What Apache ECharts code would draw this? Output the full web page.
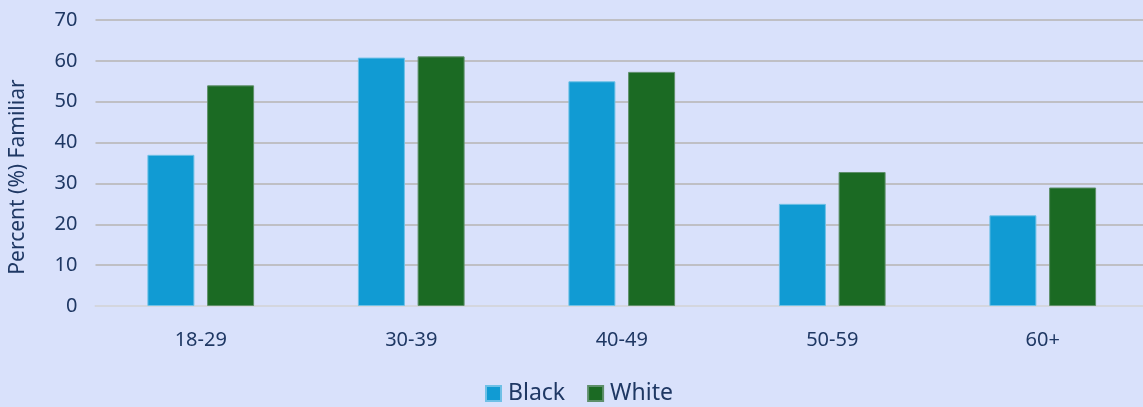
<!DOCTYPE html>
<html>
<head>
<meta charset="utf-8">
<script src="https://cdn.jsdelivr.net/npm/echarts@6/dist/echarts.min.js"></script>
<style>
  html, body { margin: 0; padding: 0; background: #d9e1fb; }
  #chart { width: 1143px; height: 407px; }
</style>
</head>
<body>
<div id="chart"></div>
<script>
var ageGroups = ["18-29", "30-39", "40-49", "50-59", "60+"];
var blackValues = [37, 60.8, 55, 25, 22.2];
var whiteValues = [54, 61.1, 57.3, 32.8, 29];
var yTicks = { min: 0, max: 70, interval: 10 };

var textColor = "#1f3864";
var font = "Noto Sans";

var myChart = echarts.init(document.getElementById("chart"));
var option = {
  backgroundColor: "#d9e1fb",
  animation: false,
  textStyle: { fontFamily: font },
  // plot area runs a little past the right edge, as in the original
  grid: { left: 95.5, right: -5, top: 20, bottom: 101, outerBoundsMode: "none", containLabel: false },
  legend: {
    bottom: -3,
    left: 480,
    itemWidth: 15,
    itemHeight: 15,
    itemGap: 22,
    icon: "rect",
    textStyle: { color: textColor, fontSize: 23, fontFamily: font, padding: [0, 0, 0, 2] },
    data: ["Black", "White"],
  },
  xAxis: {
    type: "category",
    data: ageGroups,
    axisTick: { show: false },
    axisLine: { lineStyle: { color: "#d4d6de", width: 2 } },
    axisLabel: { color: textColor, fontSize: 20, margin: 24 },
  },
  yAxis: {
    type: "value",
    min: yTicks.min,
    max: yTicks.max,
    interval: yTicks.interval,
    name: "Percent (%) Familiar",
    nameLocation: "middle",
    nameGap: 67,
    nameTextStyle: { color: textColor, fontSize: 21, padding: [0, 28, 0, 0] },
    axisLabel: { color: textColor, fontSize: 20, margin: 18 },
    splitLine: { lineStyle: { color: "#bfbfc4", width: 2 } },
  },
  series: [
    {
      name: "Black",
      type: "bar",
      data: blackValues,
      barWidth: 47,
      barGap: "27%",
      itemStyle: { color: "#119bd3", borderColor: "#6fc0e6", borderWidth: 1 },
    },
    {
      name: "White",
      type: "bar",
      data: whiteValues,
      barWidth: 47,
      itemStyle: { color: "#1b6a23", borderColor: "#5e8f6a", borderWidth: 1 },
    },
  ],
};
myChart.setOption(option);
</script>
</body>
</html>
